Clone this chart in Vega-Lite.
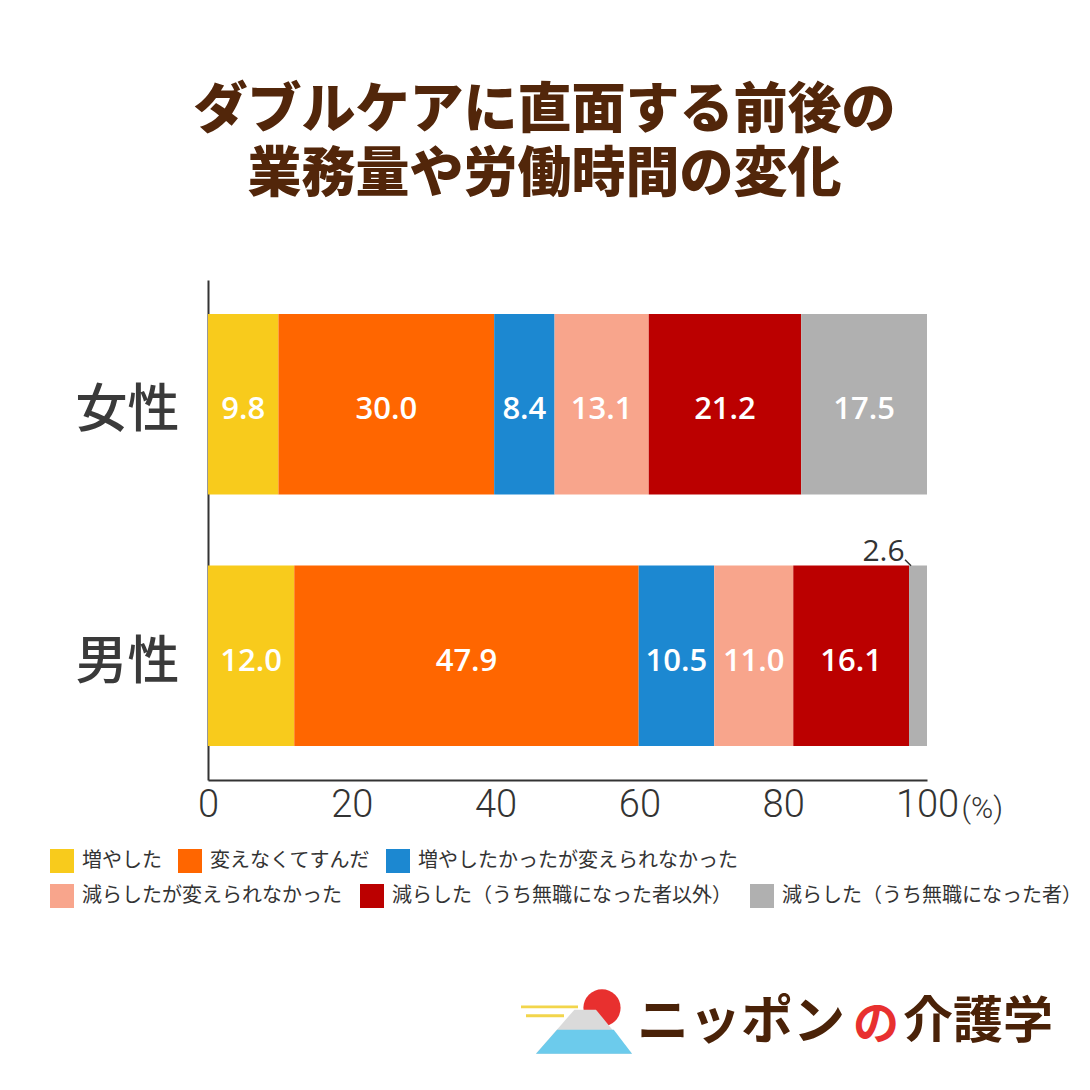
{
  "$schema": "https://vega.github.io/schema/vega-lite/v6.json",
  "autosize": {"type": "none"},
  "width": 719,
  "height": 500,
  "padding": {"top": 280, "left": 208, "right": 163, "bottom": 310},
  "background": "white",
  "title": {
    "text": ["ダブルケアに直面する前後の", "業務量や労働時間の変化"],
    "font": "Noto Sans CJK JP",
    "fontSize": 54,
    "fontWeight": 900,
    "color": "#52260a",
    "lineHeight": 64,
    "frame": "group",
    "anchor": "middle",
    "dx": -23,
    "offset": 77
  },
  "config": {
    "view": {"stroke": null},
    "font": "Noto Sans CJK JP"
  },
  "data": {
    "values": [
      {"gender": "女性", "category": "増やした", "value": 9.8, "order": 1},
      {"gender": "女性", "category": "変えなくてすんだ", "value": 30.0, "order": 2},
      {"gender": "女性", "category": "増やしたかったが変えられなかった", "value": 8.4, "order": 3},
      {"gender": "女性", "category": "減らしたが変えられなかった", "value": 13.1, "order": 4},
      {"gender": "女性", "category": "減らした（うち無職になった者以外）", "value": 21.2, "order": 5},
      {"gender": "女性", "category": "減らした（うち無職になった者）", "value": 17.5, "order": 6},
      {"gender": "男性", "category": "増やした", "value": 12.0, "order": 1},
      {"gender": "男性", "category": "変えなくてすんだ", "value": 47.9, "order": 2},
      {"gender": "男性", "category": "増やしたかったが変えられなかった", "value": 10.5, "order": 3},
      {"gender": "男性", "category": "減らしたが変えられなかった", "value": 11.0, "order": 4},
      {"gender": "男性", "category": "減らした（うち無職になった者以外）", "value": 16.1, "order": 5},
      {"gender": "男性", "category": "減らした（うち無職になった者）", "value": 2.6, "order": 6}
    ]
  },
  "transform": [
    {"stack": "value", "groupby": ["gender"], "sort": [{"field": "order", "order": "ascending"}], "as": ["v0", "v1"]}
  ],
  "encoding": {
    "y": {
      "field": "gender",
      "type": "nominal",
      "scale": {"domain": ["女性", "男性"], "paddingInner": 0.283, "paddingOuter": 0.135},
      "axis": {
        "title": null,
        "domain": true,
        "domainColor": "#333333",
        "domainWidth": 2,
        "ticks": false,
        "grid": false,
        "labelFont": "Noto Sans CJK JP",
        "labelFontSize": 52,
        "labelFontWeight": 500,
        "labelColor": "#3a3a3a",
        "labelPadding": 29,
        "labelOffset": 7
      }
    }
  },
  "layer": [
    {
      "transform": [{"filter": "datum.order <= 3"}],
      "mark": {"type": "bar"},
      "encoding": {
        "x": {
          "field": "v0",
          "type": "quantitative",
          "scale": {"domain": [0, 100], "nice": false, "clamp": true},
          "axis": {
            "values": [0, 20, 40, 60, 80, 100],
            "grid": false,
            "ticks": false,
            "domain": true,
            "domainColor": "#333333",
            "domainWidth": 2,
            "labelFont": "Roboto",
            "labelFontSize": 38,
            "labelFontWeight": 300,
            "labelColor": "#333333",
            "labelPadding": 6,
            "labelFlush": false,
            "labelOverlap": false,
            "title": "(%)",
            "titleFont": "Roboto",
            "titleFontSize": 30,
            "titleFontWeight": 300,
            "titleColor": "#333333",
            "titleAlign": "left",
            "titleBaseline": "middle",
            "titleX": 753,
            "titleY": 28
          }
        },
        "x2": {"field": "v1"},
        "color": {
          "field": "category",
          "type": "nominal",
          "scale": {
            "domain": ["増やした", "変えなくてすんだ", "増やしたかったが変えられなかった"],
            "range": ["#f8cb1c", "#ff6600", "#1c88d1"]
          },
          "legend": {
            "title": null,
            "orient": "none",
            "legendX": -158,
            "legendY": 569,
            "direction": "horizontal",
            "columnPadding": 16,
            "symbolType": "square",
            "symbolSize": 576,
            "symbolStrokeWidth": 0,
            "symbolOpacity": 1,
            "labelFont": "Noto Sans CJK JP",
            "labelFontSize": 20,
            "labelColor": "#333333",
            "labelOffset": 8,
            "labelLimit": 600
          }
        }
      }
    },
    {
      "transform": [{"filter": "datum.order >= 4"}],
      "mark": {"type": "bar"},
      "encoding": {
        "x": {"field": "v0", "type": "quantitative"},
        "x2": {"field": "v1"},
        "fill": {
          "field": "category",
          "type": "nominal",
          "scale": {
            "domain": ["減らしたが変えられなかった", "減らした（うち無職になった者以外）", "減らした（うち無職になった者）"],
            "range": ["#f8a58c", "#bb0000", "#b0b0b0"]
          },
          "legend": {
            "title": null,
            "orient": "none",
            "legendX": -158,
            "legendY": 604,
            "direction": "horizontal",
            "columnPadding": 18,
            "symbolType": "square",
            "symbolSize": 576,
            "symbolStrokeWidth": 0,
            "symbolOpacity": 1,
            "labelFont": "Noto Sans CJK JP",
            "labelFontSize": 20,
            "labelColor": "#333333",
            "labelOffset": 8,
            "labelLimit": 600
          }
        }
      }
    },
    {
      "transform": [{"filter": "datum.value >= 5"}],
      "mark": {"type": "text", "color": "white", "font": "Open Sans", "fontSize": 31, "fontWeight": 600, "baseline": "middle", "align": "center", "dy": 6},
      "encoding": {
        "x": {"field": "value", "type": "quantitative", "stack": "zero", "bandPosition": 0.5},
        "detail": {"field": "category", "type": "nominal"},
        "order": {"field": "order", "type": "quantitative"},
        "text": {"field": "value", "type": "quantitative", "format": ".1f"}
      }
    },
    {
      "transform": [{"filter": "datum.value < 5"}],
      "mark": {"type": "text", "color": "#333333", "font": "Open Sans", "fontSize": 30, "baseline": "middle", "align": "center", "dx": -25.5, "dy": -104},
      "encoding": {
        "x": {"field": "v0", "type": "quantitative", "stack": null},
        "text": {"field": "value", "type": "quantitative", "format": ".1f"}
      }
    },
    {
      "transform": [{"filter": "datum.value < 5"}],
      "mark": {"type": "point", "shape": "M-1,-1L1,1", "size": 36, "filled": false, "stroke": "#333333", "strokeWidth": 1.5, "opacity": 1, "xOffset": -1, "yOffset": -93},
      "encoding": {
        "x": {"field": "v0", "type": "quantitative", "stack": null}
      }
    },
    {
      "data": {"values": [{"item": "sun"}]},
      "mark": {"type": "point", "shape": "circle", "size": 1385, "filled": true, "color": "#e8302f", "opacity": 1, "strokeWidth": 0, "xOffset": -325, "yOffset": 352},
      "encoding": {"x": {"datum": 100, "type": "quantitative"}, "y": {"datum": "男性"}}
    },
    {
      "data": {"values": [{"item": "mountain"}]},
      "mark": {"type": "point", "shape": "M-1,1L-0.2,0.08L0.25,0.08L1,1Z", "size": 9216, "filled": true, "color": "#dadada", "opacity": 1, "strokeWidth": 0, "xOffset": -343, "yOffset": 350},
      "encoding": {"x": {"datum": 100, "type": "quantitative"}, "y": {"datum": "男性"}}
    },
    {
      "data": {"values": [{"item": "mountain base"}]},
      "mark": {"type": "point", "shape": "M-1,1L-0.56,0.5L0.62,0.5L1,1Z", "size": 9216, "filled": true, "color": "#6ccbec", "opacity": 1, "strokeWidth": 0, "xOffset": -343, "yOffset": 350},
      "encoding": {"x": {"datum": 100, "type": "quantitative"}, "y": {"datum": "男性"}}
    },
    {
      "data": {"values": [{"item": "cloud 1"}]},
      "mark": {"type": "point", "shape": "M-1,-0.05L1,-0.05L1,0.05L-1,0.05Z", "size": 3249, "filled": true, "color": "#f2d54b", "opacity": 1, "strokeWidth": 0, "xOffset": -377.5, "yOffset": 351},
      "encoding": {"x": {"datum": 100, "type": "quantitative"}, "y": {"datum": "男性"}}
    },
    {
      "data": {"values": [{"item": "cloud 2"}]},
      "mark": {"type": "point", "shape": "M-1,-0.08L1,-0.08L1,0.08L-1,0.08Z", "size": 1444, "filled": true, "color": "#f2d54b", "opacity": 1, "strokeWidth": 0, "xOffset": -382, "yOffset": 360},
      "encoding": {"x": {"datum": 100, "type": "quantitative"}, "y": {"datum": "男性"}}
    },
    {
      "data": {"values": [{"t": "ニッポン"}]},
      "mark": {"type": "text", "font": "Noto Sans CJK JP", "fontSize": 52, "fontWeight": "bold", "color": "#4a2208", "align": "left", "baseline": "middle", "dx": -290, "dy": 367},
      "encoding": {"x": {"datum": 100, "type": "quantitative"}, "y": {"datum": "男性"}, "text": {"field": "t"}}
    },
    {
      "data": {"values": [{"t": "の"}]},
      "mark": {"type": "text", "font": "Noto Sans CJK JP", "fontSize": 46, "fontWeight": "bold", "color": "#e8302f", "align": "left", "baseline": "middle", "dx": -74, "dy": 369},
      "encoding": {"x": {"datum": 100, "type": "quantitative"}, "y": {"datum": "男性"}, "text": {"field": "t"}}
    },
    {
      "data": {"values": [{"t": "介護学"}]},
      "mark": {"type": "text", "font": "Noto Sans CJK JP", "fontSize": 50, "fontWeight": "bold", "color": "#4a2208", "align": "left", "baseline": "middle", "dx": -24, "dy": 367},
      "encoding": {"x": {"datum": 100, "type": "quantitative"}, "y": {"datum": "男性"}, "text": {"field": "t"}}
    }
  ]
}
